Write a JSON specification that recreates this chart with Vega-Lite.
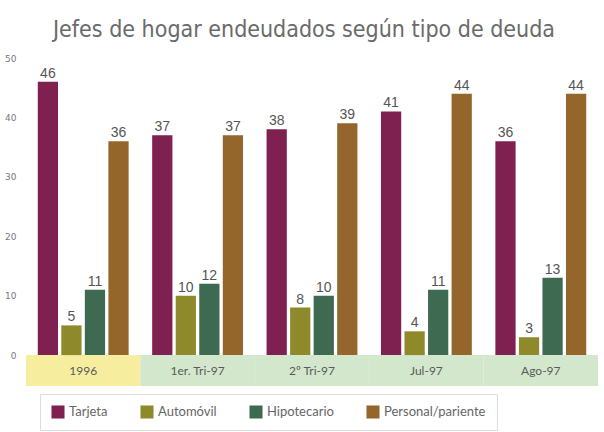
{
  "$schema": "https://vega.github.io/schema/vega-lite/v6.json",
  "width": 572,
  "height": 328,
  "padding": {"left": 4, "right": 4, "top": 19, "bottom": 2},
  "background": "#ffffff",
  "title": {
    "text": "Jefes de hogar endeudados según tipo de deuda",
    "fontSize": 23,
    "font": "DejaVu Sans Condensed, Roboto, sans-serif",
    "fontWeight": "normal",
    "color": "#6a6a6a",
    "anchor": "middle",
    "dx": -8,
    "offset": 12
  },
  "config": {
    "view": {"stroke": null}
  },
  "datasets": {
    "periodos": [
      {"periodo": "1996"},
      {"periodo": "1er. Tri-97"},
      {"periodo": "2º Tri-97"},
      {"periodo": "Jul-97"},
      {"periodo": "Ago-97"}
    ],
    "deuda": [
      {"periodo": "1996", "tipo": "Tarjeta", "valor": 46},
      {"periodo": "1996", "tipo": "Automóvil", "valor": 5},
      {"periodo": "1996", "tipo": "Hipotecario", "valor": 11},
      {"periodo": "1996", "tipo": "Personal/pariente", "valor": 36},
      {"periodo": "1er. Tri-97", "tipo": "Tarjeta", "valor": 37},
      {"periodo": "1er. Tri-97", "tipo": "Automóvil", "valor": 10},
      {"periodo": "1er. Tri-97", "tipo": "Hipotecario", "valor": 12},
      {"periodo": "1er. Tri-97", "tipo": "Personal/pariente", "valor": 37},
      {"periodo": "2º Tri-97", "tipo": "Tarjeta", "valor": 38},
      {"periodo": "2º Tri-97", "tipo": "Automóvil", "valor": 8},
      {"periodo": "2º Tri-97", "tipo": "Hipotecario", "valor": 10},
      {"periodo": "2º Tri-97", "tipo": "Personal/pariente", "valor": 39},
      {"periodo": "Jul-97", "tipo": "Tarjeta", "valor": 41},
      {"periodo": "Jul-97", "tipo": "Automóvil", "valor": 4},
      {"periodo": "Jul-97", "tipo": "Hipotecario", "valor": 11},
      {"periodo": "Jul-97", "tipo": "Personal/pariente", "valor": 44},
      {"periodo": "Ago-97", "tipo": "Tarjeta", "valor": 36},
      {"periodo": "Ago-97", "tipo": "Automóvil", "valor": 3},
      {"periodo": "Ago-97", "tipo": "Hipotecario", "valor": 13},
      {"periodo": "Ago-97", "tipo": "Personal/pariente", "valor": 44}
    ]
  },
  "layer": [
    {
      "data": {"name": "periodos"},
      "mark": {"type": "rect"},
      "encoding": {
        "x": {"field": "periodo", "type": "nominal", "sort": ["1996", "1er. Tri-97", "2º Tri-97", "Jul-97", "Ago-97"], "axis": null, "scale": {"paddingInner": 0, "paddingOuter": 0}},
        "y": {"datum": -5.2, "type": "quantitative", "axis": {"grid": false, "domain": false, "ticks": false, "title": null, "values": [0, 10, 20, 30, 40, 50], "labelColor": "#777777", "labelFontSize": 9, "labelPadding": 10, "labelFont": "DejaVu Sans"}},
        "y2": {"datum": 0},
        "fill": {"condition": {"test": "datum.periodo === '1996'", "value": "#f6ed9e"}, "value": "#d3e7cd"}
      }
    },
    {
      "data": {"name": "periodos"},
      "mark": {"type": "text", "fontSize": 12, "color": "#5a5a5a", "font": "Lato"},
      "encoding": {
        "x": {"field": "periodo", "type": "nominal", "sort": ["1996", "1er. Tri-97", "2º Tri-97", "Jul-97", "Ago-97"], "axis": null},
        "y": {"datum": -2.6, "type": "quantitative"},
        "text": {"field": "periodo"}
      }
    },
    {
      "data": {"name": "deuda"},
      "mark": {"type": "bar"},
      "encoding": {
        "x": {"field": "periodo", "type": "nominal", "sort": ["1996", "1er. Tri-97", "2º Tri-97", "Jul-97", "Ago-97"], "axis": null},
        "xOffset": {"field": "tipo", "sort": ["Tarjeta", "Automóvil", "Hipotecario", "Personal/pariente"], "scale": {"paddingInner": 0.14, "paddingOuter": 0.5}},
        "y": {"field": "valor", "type": "quantitative", "scale": {"domain": [-5.2, 50], "nice": false, "zero": false}, "axis": {"grid": false, "domain": false, "ticks": false, "title": null, "values": [0, 10, 20, 30, 40, 50], "labelColor": "#777777", "labelFontSize": 9, "labelPadding": 10, "labelFont": "DejaVu Sans"}},
        "color": {
          "field": "tipo",
          "type": "nominal",
          "sort": ["Tarjeta", "Automóvil", "Hipotecario", "Personal/pariente"],
          "scale": {"domain": ["Tarjeta", "Automóvil", "Hipotecario", "Personal/pariente"], "range": ["#7e2150", "#8e8a2c", "#3f6a52", "#95662c"]},
          "legend": {
            "orient": "none",
            "legendX": 14,
            "legendY": 336,
            "direction": "horizontal",
            "title": null,
            "symbolType": "square",
            "symbolSize": 170,
            "symbolStrokeWidth": 0,
            "labelFontSize": 13,
            "labelColor": "#666666",
            "labelFont": "Lato",
            "columnPadding": 32,
            "padding": 11,
            "strokeColor": "#dddddd"
          }
        }
      }
    },
    {
      "data": {"name": "deuda"},
      "mark": {"type": "text", "baseline": "bottom", "dy": -1, "fontSize": 14, "color": "#555555", "font": "Liberation Sans"},
      "encoding": {
        "x": {"field": "periodo", "type": "nominal", "sort": ["1996", "1er. Tri-97", "2º Tri-97", "Jul-97", "Ago-97"], "axis": null},
        "xOffset": {"field": "tipo", "sort": ["Tarjeta", "Automóvil", "Hipotecario", "Personal/pariente"]},
        "y": {"field": "valor", "type": "quantitative"},
        "text": {"field": "valor"}
      }
    }
  ]
}
